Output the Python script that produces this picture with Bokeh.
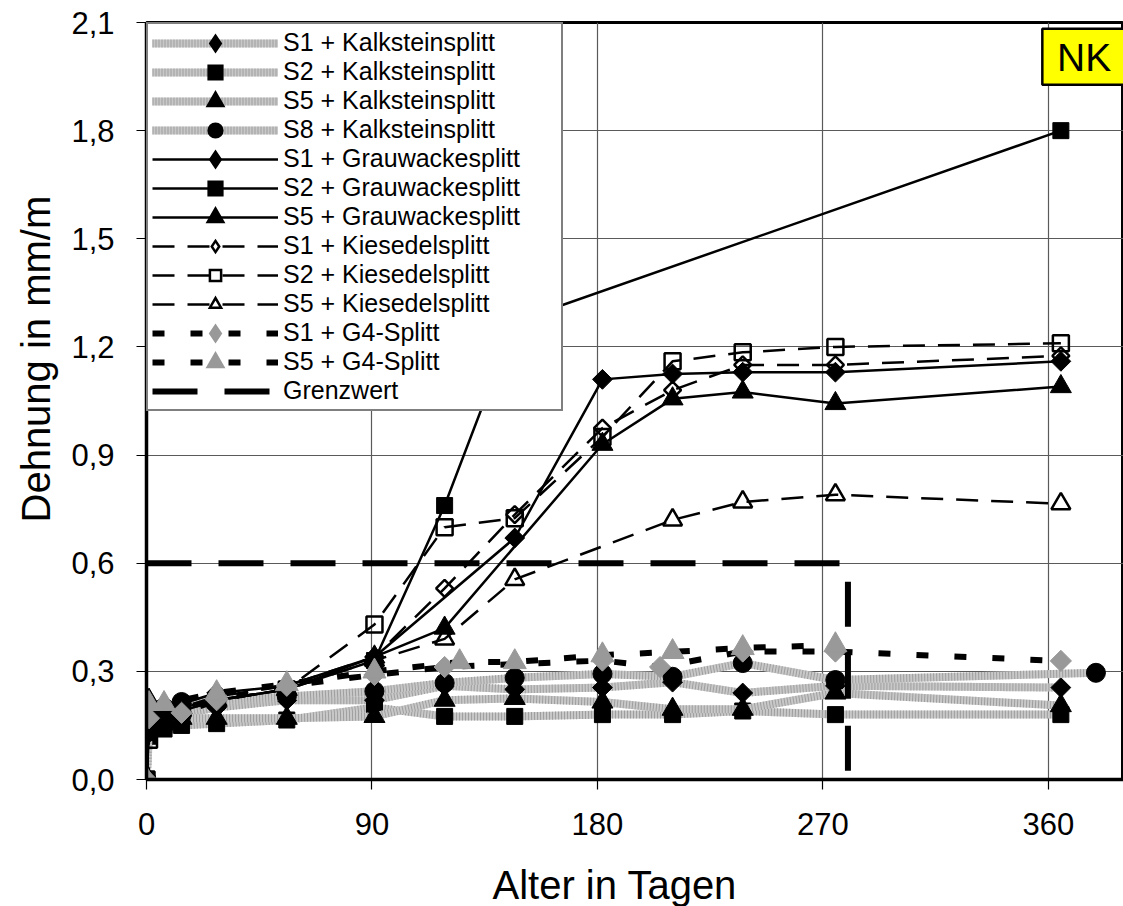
import numpy as np
from bokeh.plotting import figure
from bokeh.models import Range1d, FixedTicker, Legend, LegendItem, Title
from bokeh.core.properties import value
from bokeh.embed import file_html
from bokeh.resources import INLINE

FONT = "Liberation Sans"

# ---------------- data ----------------
kalk_s1_days = [0, 1, 7, 14, 28, 56, 91, 119, 147, 182, 210, 238, 275, 365]
kalk_s1_vals = [0, 0.14, 0.16, 0.18, 0.20, 0.22, 0.22, 0.26, 0.25, 0.255, 0.27, 0.24, 0.26, 0.255]
kalk_s2_days = [0, 1, 7, 14, 28, 56, 91, 119, 147, 182, 210, 238, 275, 365]
kalk_s2_vals = [0, 0.12, 0.14, 0.15, 0.155, 0.165, 0.20, 0.175, 0.175, 0.18, 0.18, 0.19, 0.18, 0.18]
kalk_s5_days = [0, 1, 7, 14, 28, 56, 91, 119, 147, 182, 210, 238, 275, 365]
kalk_s5_vals = [0, 0.15, 0.16, 0.17, 0.17, 0.17, 0.175, 0.22, 0.225, 0.215, 0.195, 0.195, 0.24, 0.205]
kalk_s8_days = [0, 1, 7, 14, 28, 56, 91, 119, 147, 182, 210, 238, 275, 379]
kalk_s8_vals = [0, 0.19, 0.20, 0.215, 0.22, 0.23, 0.245, 0.268, 0.282, 0.293, 0.285, 0.323, 0.276, 0.296]

grau_s1_days = [0, 1, 7, 14, 28, 56, 91, 147, 182, 210, 238, 275, 365]
grau_s1_vals = [0, 0.17, 0.19, 0.21, 0.24, 0.26, 0.34, 0.67, 1.11, 1.125, 1.13, 1.13, 1.16]
grau_s2_days = [0, 1, 7, 14, 28, 56, 91, 119, 147, 365]
grau_s2_vals = [0, 0.13, 0.15, 0.19, 0.22, 0.25, 0.33, 0.76, 1.27, 1.80]
grau_s5_days = [0, 1, 7, 14, 28, 56, 91, 119, 182, 210, 238, 275, 365]
grau_s5_vals = [0, 0.22, 0.19, 0.20, 0.22, 0.25, 0.34, 0.42, 0.93, 1.056, 1.075, 1.043, 1.09]

kies_s1_days = [0, 1, 7, 14, 28, 56, 91, 119, 147, 182, 210, 238, 275, 365]
kies_s1_vals = [0, 0.16, 0.18, 0.20, 0.23, 0.26, 0.34, 0.53, 0.735, 0.975, 1.08, 1.15, 1.15, 1.175]
kies_s2_days = [0, 1, 7, 14, 28, 56, 91, 119, 147, 182, 210, 238, 275, 365]
kies_s2_vals = [0, 0.11, 0.16, 0.19, 0.22, 0.25, 0.43, 0.70, 0.725, 0.95, 1.16, 1.185, 1.20, 1.21]
kies_s5_days = [0, 1, 7, 14, 28, 56, 91, 119, 147, 210, 238, 275, 365]
kies_s5_vals = [0, 0.15, 0.17, 0.19, 0.22, 0.25, 0.33, 0.39, 0.555, 0.72, 0.77, 0.79, 0.765]

g4_s1_days = [0, 1, 14, 28, 56, 91, 119, 182, 205, 238, 275, 365]
g4_s1_vals = [0, 0.17, 0.185, 0.22, 0.26, 0.29, 0.312, 0.33, 0.312, 0.355, 0.355, 0.329]
g4_s5_days = [0, 1, 7, 28, 56, 91, 125, 147, 182, 210, 238, 275]
g4_s5_vals = [0, 0.21, 0.21, 0.24, 0.265, 0.30, 0.326, 0.326, 0.345, 0.354, 0.365, 0.373]

grenz_days = [0, 280, 280]
grenz_vals = [0.6, 0.6, 0.0]

labels = ["S1 + Kalksteinsplitt", "S2 + Kalksteinsplitt", "S5 + Kalksteinsplitt",
          "S8 + Kalksteinsplitt", "S1 + Grauwackesplitt", "S2 + Grauwackesplitt",
          "S5 + Grauwackesplitt", "S1 + Kiesedelsplitt", "S2 + Kiesedelsplitt",
          "S5 + Kiesedelsplitt", "S1 + G4-Splitt", "S5 + G4-Splitt", "Grenzwert"]

x_ticks = [0, 90, 180, 270, 360]
y_ticks = [0.0, 0.3, 0.6, 0.9, 1.2, 1.5, 1.8, 2.1]
y_tick_labels = ["0,0", "0,3", "0,6", "0,9", "1,2", "1,5", "1,8", "2,1"]
x_label = "Alter in Tagen"
y_label = "Dehnung in mm/m"
badge = "NK"

# ---------------- figure ----------------
p = figure(width=1123, height=906, output_backend="svg", toolbar_location=None,
           x_range=Range1d(0, 390), y_range=Range1d(0, 2.1),
           min_border_left=145, min_border_right=0, min_border_top=22, min_border_bottom=126)
p.background_fill_color = "white"
p.border_fill_color = "white"
p.outline_line_color = "black"
p.outline_line_width = 3

for ax in (p.xaxis, p.yaxis):
    ax.axis_line_color = "black"
    ax.axis_line_width = 3.5
    ax.major_tick_line_color = "black"
    ax.major_tick_line_width = 1.2
    ax.major_tick_out = 10
    ax.major_tick_in = 0
    ax.minor_tick_line_color = None
    ax.major_label_text_font = FONT
    ax.major_label_text_font_size = "31px"
    ax.major_label_text_color = "black"

p.xaxis.ticker = FixedTicker(ticks=x_ticks)
p.yaxis.ticker = FixedTicker(ticks=y_ticks)
p.yaxis.major_label_overrides = {t: l for t, l in zip(y_ticks, y_tick_labels)}
p.xaxis.major_label_standoff = 23
p.yaxis.major_label_standoff = 22
# blank spacer below the x tick labels so that the title sits lower
p.xaxis.axis_label = " "
p.xaxis.axis_label_text_font_size = "2px"
p.xaxis.axis_label_standoff = 18

p.xgrid.grid_line_color = "#5a5a5a"
p.ygrid.grid_line_color = "#5a5a5a"
p.xgrid.grid_line_width = 1.2
p.ygrid.grid_line_width = 1.2

# axis titles
p.add_layout(Title(text=x_label, align="left", offset=346, standoff=0,
                   text_font=FONT, text_font_size="40px", text_font_style="normal",
                   text_color="black"), "below")
p.add_layout(Title(text=y_label, align="left", offset=257, standoff=22,
                   text_font=FONT, text_font_size="40px", text_font_style="normal",
                   text_color="black"), "left")

# ---------------- series ----------------
GRAY_M = "#999999"
D = np.pi / 4


def draw(days, vals, kind, marker, msize, fill, line, lw=1.0, angle=0.0, leg_marker=None):
    rs = []
    if kind == "kalk":
        rs.append(p.line(days, vals, line_color="#c8c8c8", line_width=8))
        rs.append(p.line(days, vals, line_color="#9e9e9e", line_width=8, line_dash="1 2"))
    elif kind == "grau":
        rs.append(p.line(days, vals, line_color="black", line_width=2.5))
    elif kind == "kies":
        rs.append(p.line(days, vals, line_color="black", line_width=2.5, line_dash="22 13"))
    elif kind == "g4":
        rs.append(p.line(days, vals, line_color="black", line_width=6, line_dash="12 26"))
    p.scatter(days, vals, marker=marker, size=msize, angle=angle,
              fill_color=fill, line_color=line, line_width=lw)
    # legend sample marker (legend draws it at a fixed size; thicker outline enlarges it)
    leg_lw = 2.5 if fill is None else 5
    rs.append(p.scatter(days, vals, marker=leg_marker or marker, size=msize, fill_color=fill,
                        line_color=line, line_width=leg_lw, line_join="miter", visible=False))
    return rs


series = [
    draw(kalk_s1_days, kalk_s1_vals, "kalk", "square", 14, "black", "black", angle=D, leg_marker="diamond"),
    draw(kalk_s2_days, kalk_s2_vals, "kalk", "square", 16, "black", "black"),
    draw(kalk_s5_days, kalk_s5_vals, "kalk", "triangle", 21, "black", "black"),
    draw(kalk_s8_days, kalk_s8_vals, "kalk", "circle", 19, "black", "black"),
    draw(grau_s1_days, grau_s1_vals, "grau", "square", 14, "black", "black", angle=D, leg_marker="diamond"),
    draw(grau_s2_days, grau_s2_vals, "grau", "square", 16, "black", "black"),
    draw(grau_s5_days, grau_s5_vals, "grau", "triangle", 21, "black", "black"),
    draw(kies_s1_days, kies_s1_vals, "kies", "square", 12, None, "black", lw=2.5, angle=D, leg_marker="diamond"),
    draw(kies_s2_days, kies_s2_vals, "kies", "square", 16, None, "black", lw=2.5),
    draw(kies_s5_days, kies_s5_vals, "kies", "triangle", 19, None, "black", lw=2.5),
    draw(g4_s1_days, g4_s1_vals, "g4", "square", 15, GRAY_M, GRAY_M, angle=D, leg_marker="diamond"),
    draw(g4_s5_days, g4_s5_vals, "g4", "triangle", 23, GRAY_M, GRAY_M),
]
gw = p.line(grenz_days, grenz_vals, line_color="black", line_width=6, line_dash="45 27")
series.append([gw])

# NK badge (annotation in data coordinates of the top-right corner)
p.quad(left=[357.6], right=[400], top=[2.083], bottom=[1.927],
       fill_color="#ffff00", line_color="black", line_width=2.5)
p.text(x=[363.5], y=[2.004], text=[badge], text_font=value(FONT), text_font_size="39px",
       text_baseline="middle", text_align="left", text_color="black")

legend = Legend(items=[LegendItem(label=l, renderers=r) for l, r in zip(labels, series)],
                location="top_left", margin=0, padding=4, spacing=0,
                glyph_width=126, glyph_height=28, label_height=28, label_width=274,
                label_standoff=5, label_text_font=FONT, label_text_font_size="25px",
                label_text_line_height=1.0,
                label_text_color="black", border_line_color="black", border_line_width=2.5,
                background_fill_color="white", background_fill_alpha=1.0)
p.add_layout(legend)

open("out.html", "w").write(file_html(p, INLINE))
